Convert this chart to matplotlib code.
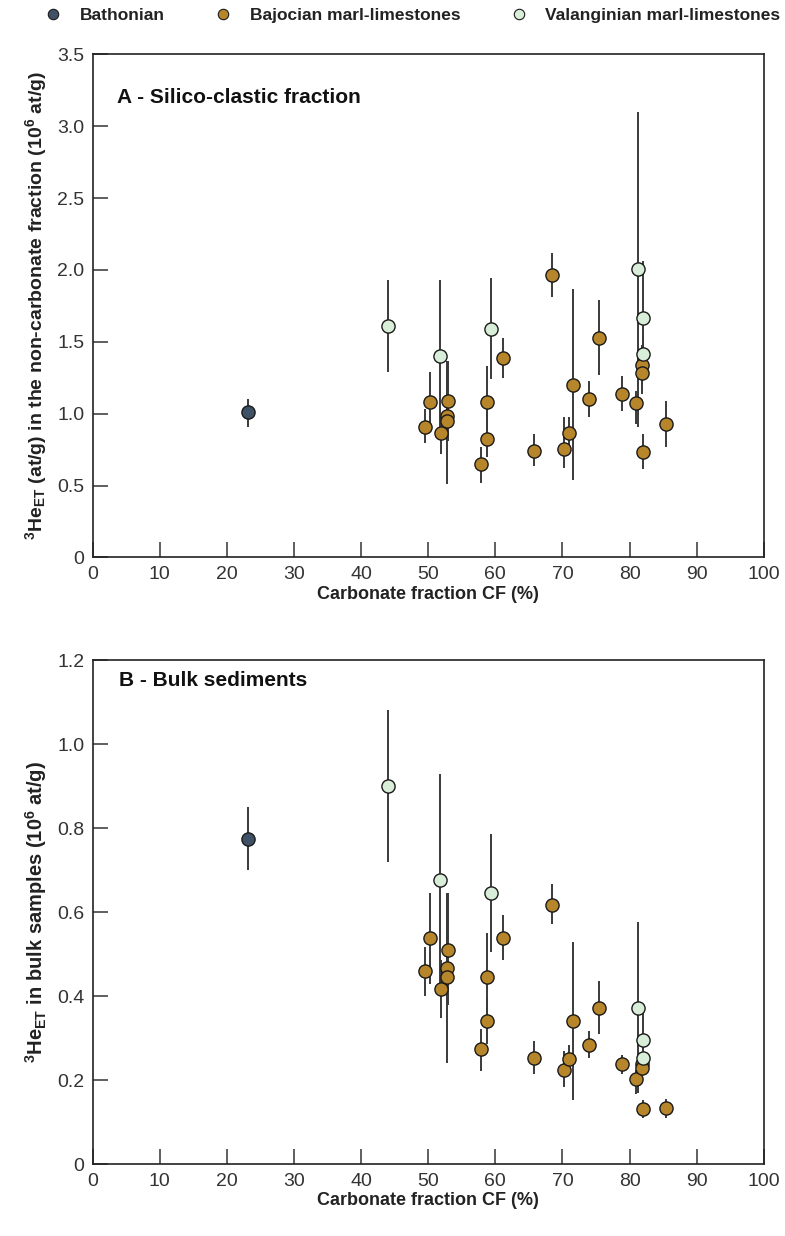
import matplotlib.pyplot as plt
import numpy as np
from matplotlib.lines import Line2D

plt.rcParams['font.family'] = ['Liberation Sans', 'DejaVu Sans']
plt.rcParams['mathtext.fontset'] = 'custom'
plt.rcParams['mathtext.rm'] = 'Liberation Sans:bold'
plt.rcParams['mathtext.it'] = 'Liberation Sans:bold'
plt.rcParams['mathtext.bf'] = 'Liberation Sans:bold'
plt.rcParams['mathtext.default'] = 'rm'

# Bathonian
bath_cf = [23.2]
bath_a = [1.01]
bath_a_lo = [0.91]
bath_a_hi = [1.10]
bath_b = [0.775]
bath_b_lo = [0.70]
bath_b_hi = [0.85]

# Bajocian marl-limestones
baj_cf = [49.5, 50.2, 51.9, 52.8, 52.8, 53.0, 57.9, 58.7, 58.7, 61.1, 65.8, 68.4,
          70.3, 71.0, 71.5, 74.0, 75.4, 78.9, 80.9, 81.9, 81.9, 82.0, 85.4]
baj_a = [0.906, 1.08, 0.867, 0.987, 0.946, 1.09, 0.647, 1.08, 0.827, 1.39, 0.744, 1.966,
         0.756, 0.865, 1.20, 1.10, 1.53, 1.14, 1.076, 1.34, 1.28, 0.737, 0.927]
baj_a_lo = [0.795, 0.87, 0.72, 0.81, 0.51, 0.81, 0.52, 0.86, 0.70, 1.25, 0.635, 1.815,
            0.62, 0.72, 0.54, 0.976, 1.27, 1.02, 0.93, 1.20, 1.14, 0.617, 0.767]
baj_a_hi = [1.03, 1.29, 1.00, 1.37, 1.37, 1.37, 0.77, 1.335, 1.03, 1.525, 0.86, 2.12,
            0.98, 0.976, 1.87, 1.23, 1.79, 1.26, 1.157, 1.48, 1.42, 0.86, 1.09]
baj_b = [0.46, 0.539, 0.418, 0.466, 0.446, 0.51, 0.274, 0.446, 0.342, 0.539, 0.254, 0.618,
         0.225, 0.251, 0.342, 0.285, 0.373, 0.238, 0.202, 0.238, 0.229, 0.131, 0.133]
baj_b_lo = [0.40, 0.43, 0.347, 0.40, 0.242, 0.379, 0.222, 0.34, 0.287, 0.487, 0.216, 0.571,
            0.184, 0.22, 0.154, 0.252, 0.309, 0.216, 0.168, 0.21, 0.21, 0.111, 0.11]
baj_b_hi = [0.517, 0.645, 0.487, 0.64, 0.646, 0.646, 0.323, 0.55, 0.396, 0.593, 0.293, 0.666,
            0.27, 0.283, 0.53, 0.317, 0.436, 0.26, 0.225, 0.26, 0.25, 0.152, 0.155]

# Valanginian marl-limestones
val_cf = [44.0, 51.8, 59.4, 81.3, 82.0, 82.0]
val_a = [1.61, 1.40, 1.59, 2.005, 1.667, 1.416]
val_a_lo = [1.29, 0.87, 1.24, 0.91, 1.27, 1.29]
val_a_hi = [1.93, 1.93, 1.945, 3.10, 2.06, 1.54]
val_b = [0.90, 0.676, 0.646, 0.373, 0.297, 0.253]
val_b_lo = [0.72, 0.42, 0.505, 0.17, 0.23, 0.22]
val_b_hi = [1.08, 0.928, 0.786, 0.576, 0.367, 0.29]

groups = [
    ('Bathonian', '#3e5166', bath_cf, bath_a, bath_a_lo, bath_a_hi, bath_b, bath_b_lo, bath_b_hi),
    ('Bajocian marl-limestones', '#b8862a', baj_cf, baj_a, baj_a_lo, baj_a_hi, baj_b, baj_b_lo, baj_b_hi),
    ('Valanginian marl-limestones', '#d9eed8', val_cf, val_a, val_a_lo, val_a_hi, val_b, val_b_lo, val_b_hi),
]

fig = plt.figure(figsize=(7.85, 12.36), dpi=100)
ax_a = fig.add_axes([0.118, 0.549, 0.855, 0.407])
ax_b = fig.add_axes([0.118, 0.058, 0.855, 0.408])


def draw(ax, panel):
    for name, col, cf, va, lo_a, hi_a, vb, lo_b, hi_b in groups:
        if panel == 'A':
            v, lo, hi = np.array(va), np.array(lo_a), np.array(hi_a)
        else:
            v, lo, hi = np.array(vb), np.array(lo_b), np.array(hi_b)
        ax.errorbar(cf, v, yerr=[v - lo, hi - v], fmt='none', ecolor='#3a3a3a',
                    elinewidth=1.4, capsize=0, zorder=2)
        ax.plot(cf, v, 'o', ms=9.5, mfc=col, mec='#1a1a1a', mew=1.0, zorder=3)
    ax.set_xlim(0, 100)
    ax.set_xticks(np.arange(0, 101, 10))
    ax.tick_params(direction='in', length=11, width=1.2, color='#444',
                   labelsize=14, labelcolor='#333', pad=6)
    for s in ax.spines.values():
        s.set_linewidth(1.2)
        s.set_color('#222')
    ax.set_xlabel('Carbonate fraction CF (%)', fontsize=13, fontweight='bold',
                  color='#222', labelpad=2)


draw(ax_a, 'A')
ax_a.set_ylim(0, 3.5)
ax_a.set_yticks([0, 0.5, 1.0, 1.5, 2.0, 2.5, 3.0, 3.5])
ax_a.set_yticklabels(['0', '0.5', '1.0', '1.5', '2.0', '2.5', '3.0', '3.5'])
ax_a.set_ylabel('$^{3}$He$_{ET}$ (at/g) in the non-carbonate fraction (10$^{6}$ at/g)',
                fontsize=14, fontweight='bold', color='#222', labelpad=6)
ax_a.text(0.037, 0.915, 'A - Silico-clastic fraction', transform=ax_a.transAxes,
          fontsize=15, fontweight='bold', color='#111', va='center')

draw(ax_b, 'B')
ax_b.set_ylim(0, 1.2)
ax_b.set_yticks([0, 0.2, 0.4, 0.6, 0.8, 1.0, 1.2])
ax_b.set_yticklabels(['0', '0.2', '0.4', '0.6', '0.8', '1.0', '1.2'])
ax_b.set_ylabel('$^{3}$He$_{ET}$ in bulk samples (10$^{6}$ at/g)',
                fontsize=14.5, fontweight='bold', color='#222', labelpad=6)
ax_b.text(0.04, 0.96, 'B - Bulk sediments', transform=ax_b.transAxes,
          fontsize=15, fontweight='bold', color='#111', va='center')

handles = [Line2D([], [], ls='none', marker='o', ms=7.5, mfc=g[1], mec='#1a1a1a', mew=0.8)
           for g in groups]
fig.legend(handles, [g[0] for g in groups], loc='upper center', bbox_to_anchor=(0.52, 1.006),
           ncol=3, frameon=False, handletextpad=0.5, columnspacing=2.4,
           prop={'weight': 'bold', 'size': 12.5}, labelcolor='#222')

fig.savefig('out.png', dpi=100)
